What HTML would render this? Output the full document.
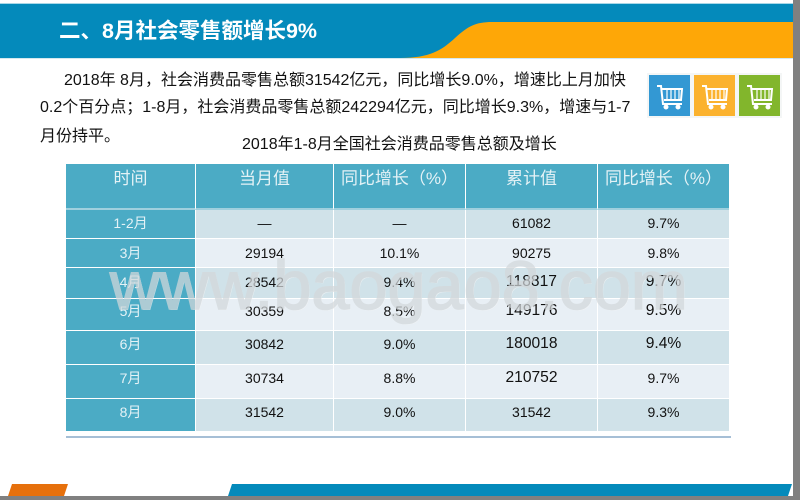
<!DOCTYPE html>
<html lang="zh">
<head>
<meta charset="utf-8">
<title>二、8月社会零售额增长9%</title>
<style>
html,body{margin:0;padding:0;background:#808080;}
#slide{position:relative;width:800px;height:500px;overflow:hidden;background:#808080;font-family:"Liberation Sans","Noto Sans CJK SC",sans-serif;}
#bg{position:absolute;left:0;top:0;}
.t{position:absolute;white-space:pre;color:#111;font-family:"Liberation Sans","WenQuanYi Zen Hei","Noto Sans CJK SC",sans-serif;font-size:16px;line-height:20px;}
#heading{position:absolute;left:59px;top:18px;white-space:pre;color:#fff;font-weight:bold;font-size:21.5px;line-height:26px;font-family:"Liberation Sans","Noto Sans CJK SC",sans-serif;}
table{position:absolute;left:66px;top:164px;border-collapse:separate;border-spacing:0;table-layout:fixed;width:663px;font-size:14px;line-height:20px;color:#111;text-align:center;}
td,th{padding:0;box-sizing:border-box;vertical-align:top;border-right:1px solid #fff;border-bottom:1px solid #fff;font-weight:normal;}
tr td:last-child,tr th:last-child{border-right:none;}
th{background:#4babc5;color:#e4f2f6;font-size:17px;line-height:22px;padding-top:4px;border-bottom:2px solid #9fd0de;font-family:"Liberation Sans","WenQuanYi Zen Hei","Noto Sans CJK SC",sans-serif;}
td.m{background:#4babc5;color:#e4f2f6;font-family:"Liberation Sans","WenQuanYi Zen Hei","Noto Sans CJK SC",sans-serif;}
tr.d td:not(.m){background:#d0e2e9;}
tr.l td:not(.m){background:#e8eff5;}
td.b{font-size:15.6px;}
#watermark{position:absolute;left:110px;top:247px;font-size:68.4px;line-height:78px;white-space:pre;color:#d3d8db;-webkit-text-stroke:1.6px #d3d8db;text-shadow:1px 1px 0 #f4f6f7;opacity:.72;font-family:"Liberation Sans",sans-serif;}
</style>
</head>
<body>
<div id="slide">
<svg id="bg" width="800" height="500" viewBox="0 0 800 500">
  <rect x="0" y="0" width="793" height="496" fill="#ffffff"/>
  <rect x="0" y="3" width="793" height="1" fill="#a8d8e8"/>
  <rect x="0" y="4" width="793" height="54" fill="#048abb"/>
  <path d="M400 58 C430 58 442 50 455 38 C468 26 476 22 492 22 L793 22 L793 58 Z" fill="#fea707"/>
  <rect x="0" y="58" width="793" height="1" fill="#d5e8ee"/>
  <rect x="647" y="73" width="135" height="45" fill="#f4f6f6"/>
  <g>
    <rect x="649" y="75" width="41" height="41" fill="#3398d3"/>
    <g transform="translate(649,75)" fill="none" stroke="#fff" stroke-width="2">
      <path d="M8 11 H12 L14 29 H33"/><path d="M13 14 H33 L32 25 H15"/><path d="M18 15 V24 M22 15 V24 M26 15 V24 M30 15 V24" stroke-width="1.2"/>
      <circle cx="17" cy="32" r="2" fill="#fff" stroke-width="1"/><circle cx="29" cy="32" r="2" fill="#fff" stroke-width="1"/>
    </g>
  </g>
  <g>
    <rect x="694" y="75" width="41" height="41" fill="#fbb22e"/>
    <g transform="translate(694,75)" fill="none" stroke="#fff" stroke-width="2">
      <path d="M8 11 H12 L14 29 H33"/><path d="M13 14 H33 L32 25 H15"/><path d="M18 15 V24 M22 15 V24 M26 15 V24 M30 15 V24" stroke-width="1.2"/>
      <circle cx="17" cy="32" r="2" fill="#fff" stroke-width="1"/><circle cx="29" cy="32" r="2" fill="#fff" stroke-width="1"/>
    </g>
  </g>
  <g>
    <rect x="739" y="75" width="41" height="41" fill="#82b62c"/>
    <g transform="translate(739,75)" fill="none" stroke="#fff" stroke-width="2">
      <path d="M8 11 H12 L14 29 H33"/><path d="M13 14 H33 L32 25 H15"/><path d="M18 15 V24 M22 15 V24 M26 15 V24 M30 15 V24" stroke-width="1.2"/>
      <circle cx="17" cy="32" r="2" fill="#fff" stroke-width="1"/><circle cx="29" cy="32" r="2" fill="#fff" stroke-width="1"/>
    </g>
  </g>
  <rect x="66" y="436" width="665" height="2" fill="#a6bfd6"/>
  <path d="M12 484 H68 L64 496 H8 Z" fill="#e6700c"/>
  <path d="M232 484 H792 L788 496 H228 Z" fill="#048abb"/>
</svg>

<div id="heading">二、8月社会零售额增长9%</div>

<div class="t" style="left:64px;top:71px;">2018年 8月，社会消费品零售总额31542亿元，同比增长9.0%，增速比上月加快</div>
<div class="t" style="left:40px;top:98px;">0.2个百分点；1-8月，社会消费品零售总额242294亿元，同比增长9.3%，增速与1-7</div>
<div class="t" style="left:40px;top:127px;">月份持平。</div>
<div class="t" style="left:242px;top:135px;">2018年1-8月全国社会消费品零售总额及增长</div>

<table>
<colgroup><col style="width:130px"><col style="width:138px"><col style="width:132px"><col style="width:132px"><col style="width:131px"></colgroup>
<tr style="height:46px">
  <th>时间</th>
  <th>当月值</th>
  <th>同比增长（%）</th>
  <th>累计值</th>
  <th>同比增长（%）</th>
</tr>
<tr class="d" style="height:29px">
  <td class="m" style="padding-top:3px">1-2月</td>
  <td style="padding-top:3px">—</td>
  <td style="padding-top:3px">—</td>
  <td style="padding-top:3px">61082</td>
  <td style="padding-top:3px">9.7%</td>
</tr>
<tr class="l" style="height:29px">
  <td class="m" style="padding-top:4px">3月</td>
  <td style="padding-top:4px">29194</td>
  <td style="padding-top:4px">10.1%</td>
  <td style="padding-top:4px">90275</td>
  <td style="padding-top:4px">9.8%</td>
</tr>
<tr class="d" style="height:31px">
  <td class="m" style="padding-top:4px">4月</td>
  <td style="padding-top:4px">28542</td>
  <td style="padding-top:4px">9.4%</td>
  <td class="b" style="padding-top:4px">118817</td>
  <td class="b" style="padding-top:4px">9.7%</td>
</tr>
<tr class="l" style="height:32px">
  <td class="m" style="padding-top:2px">5月</td>
  <td style="padding-top:2px">30359</td>
  <td style="padding-top:2px">8.5%</td>
  <td class="b" style="padding-top:2px">149176</td>
  <td class="b" style="padding-top:2px">9.5%</td>
</tr>
<tr class="d" style="height:34px">
  <td class="m" style="padding-top:3px">6月</td>
  <td style="padding-top:3px">30842</td>
  <td style="padding-top:3px">9.0%</td>
  <td class="b" style="padding-top:3px">180018</td>
  <td class="b" style="padding-top:3px">9.4%</td>
</tr>
<tr class="l" style="height:34px">
  <td class="m" style="padding-top:3px">7月</td>
  <td style="padding-top:3px">30734</td>
  <td style="padding-top:3px">8.8%</td>
  <td class="b" style="padding-top:3px">210752</td>
  <td style="padding-top:3px">9.7%</td>
</tr>
<tr class="d" style="height:33px">
  <td class="m" style="padding-top:3px">8月</td>
  <td style="padding-top:3px">31542</td>
  <td style="padding-top:3px">9.0%</td>
  <td style="padding-top:3px">31542</td>
  <td style="padding-top:3px">9.3%</td>
</tr>
</table>

<div id="watermark">www.baogao8.com</div>
</div>
</body>
</html>
